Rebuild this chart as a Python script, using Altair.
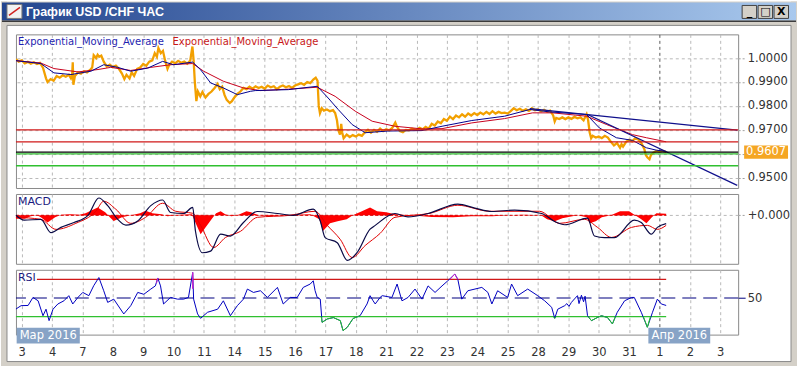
import altair as alt
import pandas as pd

# ---------------- data ----------------
days = ["3", "4", "7", "8", "9", "10", "11", "14", "15", "16", "17", "18",
        "21", "22", "23", "24", "25", "28", "29", "30", "31", "1", "2", "3"]
months = ["Мар 2016", "Апр 2016"]
title_text = "График USD /CHF ЧАС"
ema_label = "Exponential_Moving_Average"

price = [(-0.19, 0.9995), (-0.10, 0.9985), (0.0, 0.9990), (0.1, 0.9978), (0.2, 0.9984), (0.3, 0.9976),
         (0.4, 0.9982), (0.5, 0.9975), (0.6, 0.9980), (0.7, 0.9960), (0.8, 0.9915), (0.85, 0.9900),
         (0.95, 0.9912), (1.05, 0.9905), (1.15, 0.9925), (1.25, 0.9918), (1.35, 0.9928), (1.45, 0.9922),
         (1.55, 0.9930), (1.62, 0.9915), (1.66, 0.9930), (1.68, 0.9982), (1.70, 0.9888), (1.75, 0.9925),
         (1.85, 0.9940), (1.95, 0.9935), (2.05, 0.9945), (2.15, 0.9940), (2.25, 0.9950), (2.32, 0.9960),
         (2.37, 1.0012), (2.45, 1.0000), (2.5, 1.0014), (2.55, 1.0005), (2.62, 1.0010), (2.7, 0.9985),
         (2.8, 0.9965), (2.9, 0.9972), (3.0, 0.9962), (3.1, 0.9968), (3.2, 0.9955), (3.3, 0.9935),
         (3.38, 0.9912), (3.45, 0.9930), (3.55, 0.9915), (3.62, 0.9940), (3.7, 0.9925), (3.8, 0.9955),
         (3.9, 0.9960), (4.0, 0.9975), (4.1, 0.9968), (4.2, 0.9985), (4.3, 0.9990), (4.38, 1.0020),
         (4.45, 1.0005), (4.5, 1.0042), (4.58, 1.0020), (4.65, 1.0030), (4.72, 0.9990), (4.8, 0.9955),
         (4.85, 0.9970), (4.95, 0.9985), (5.05, 0.9978), (5.15, 0.9988), (5.25, 0.9980), (5.35, 0.9985),
         (5.45, 0.9976), (5.55, 0.9990), (5.62, 1.0048), (5.66, 0.9990), (5.7, 0.9900), (5.75, 0.9820),
         (5.8, 0.9860), (5.88, 0.9840), (5.95, 0.9858), (6.05, 0.9835), (6.15, 0.9850), (6.25, 0.9860),
         (6.35, 0.9875), (6.45, 0.9892), (6.52, 0.9870), (6.6, 0.9880), (6.68, 0.9845), (6.75, 0.9825),
         (6.85, 0.9812), (6.92, 0.9820), (7.0, 0.9835), (7.1, 0.9850), (7.2, 0.9860), (7.3, 0.9875),
         (7.4, 0.9870), (7.5, 0.9880), (7.6, 0.9872), (7.7, 0.9882), (7.8, 0.9875), (7.9, 0.9880),
         (8.0, 0.9872), (8.1, 0.9885), (8.2, 0.9878), (8.3, 0.9882), (8.4, 0.9870), (8.5, 0.9880),
         (8.6, 0.9885), (8.7, 0.9878), (8.8, 0.9883), (8.9, 0.9875), (9.0, 0.9885), (9.1, 0.9890),
         (9.2, 0.9895), (9.3, 0.9888), (9.4, 0.9900), (9.5, 0.9895), (9.6, 0.9910), (9.68, 0.9918),
         (9.74, 0.9905), (9.78, 0.9800), (9.82, 0.9770), (9.88, 0.9790), (9.95, 0.9780), (10.05, 0.9785),
         (10.15, 0.9778), (10.25, 0.9782), (10.32, 0.9770), (10.38, 0.9740), (10.42, 0.9700), (10.48, 0.9680),
         (10.52, 0.9725), (10.55, 0.9690), (10.6, 0.9665), (10.7, 0.9680), (10.8, 0.9670), (10.9, 0.9678),
         (11.0, 0.9672), (11.1, 0.9680), (11.2, 0.9675), (11.3, 0.9690), (11.4, 0.9700), (11.5, 0.9688),
         (11.6, 0.9700), (11.7, 0.9692), (11.8, 0.9705), (11.9, 0.9695), (12.0, 0.9702), (12.1, 0.9698),
         (12.2, 0.9708), (12.3, 0.9730), (12.36, 0.9712), (12.45, 0.9695), (12.55, 0.9690), (12.65, 0.9700),
         (12.75, 0.9698), (12.85, 0.9705), (13.0, 0.9700), (13.1, 0.9708), (13.2, 0.9702), (13.3, 0.9712),
         (13.4, 0.9705), (13.5, 0.9725), (13.6, 0.9718), (13.7, 0.9735), (13.8, 0.9728), (13.9, 0.9745),
         (14.0, 0.9738), (14.1, 0.9755), (14.2, 0.9745), (14.3, 0.9760), (14.4, 0.9752), (14.5, 0.9765),
         (14.6, 0.9755), (14.7, 0.9768), (14.8, 0.9760), (14.9, 0.9770), (15.0, 0.9762), (15.1, 0.9772),
         (15.2, 0.9765), (15.3, 0.9775), (15.4, 0.9766), (15.5, 0.9778), (15.6, 0.9768), (15.7, 0.9775),
         (15.8, 0.9770), (15.9, 0.9772), (16.0, 0.9768), (16.1, 0.9778), (16.2, 0.9790), (16.3, 0.9782),
         (16.4, 0.9788), (16.5, 0.9780), (16.6, 0.9786), (16.7, 0.9779), (16.8, 0.9790), (16.9, 0.9782),
         (17.0, 0.9785), (17.1, 0.9778), (17.2, 0.9784), (17.3, 0.9776), (17.4, 0.9780), (17.5, 0.9760),
         (17.55, 0.9735), (17.6, 0.9750), (17.7, 0.9745), (17.8, 0.9752), (17.9, 0.9745), (18.0, 0.9752),
         (18.1, 0.9746), (18.2, 0.9754), (18.3, 0.9748), (18.4, 0.9752), (18.5, 0.9740), (18.6, 0.9765),
         (18.65, 0.9740), (18.7, 0.9690), (18.75, 0.9665), (18.8, 0.9675), (18.9, 0.9668), (19.0, 0.9672),
         (19.1, 0.9665), (19.2, 0.9675), (19.3, 0.9668), (19.4, 0.9650), (19.5, 0.9635), (19.6, 0.9645),
         (19.7, 0.9625), (19.75, 0.9640), (19.8, 0.9630), (19.9, 0.9650), (20.0, 0.9658), (20.1, 0.9652),
         (20.2, 0.9665), (20.3, 0.9660), (20.4, 0.9645), (20.5, 0.9620), (20.55, 0.9595), (20.6, 0.9585),
         (20.67, 0.9577), (20.72, 0.9595), (20.8, 0.9605), (20.9, 0.9612), (21.0, 0.9608), (21.1, 0.9613),
         (21.22, 0.9607)]

ema_fast = [(-0.19, 0.9989), (0.63, 0.9977), (1.06, 0.9938), (1.62, 0.9931), (2.28, 0.9945), (2.70, 0.9972),
            (3.16, 0.9961), (3.59, 0.9945), (4.15, 0.9958), (4.64, 0.9986), (5.00, 0.9972), (5.63, 0.9983),
            (5.89, 0.9951), (6.22, 0.9896), (6.64, 0.9875), (7.10, 0.9847), (7.53, 0.9861), (7.69, 0.9864),
            (8.78, 0.9868), (9.73, 0.9882), (10.09, 0.9833), (10.42, 0.9785), (10.88, 0.9722), (11.31, 0.9688),
            (12.06, 0.9695), (13.18, 0.9697), (13.84, 0.9715), (14.82, 0.9739), (15.90, 0.9757), (16.73, 0.9785),
            (17.38, 0.9775), (18.60, 0.9764), (19.02, 0.9708), (19.58, 0.9667), (20.11, 0.9656), (20.57, 0.9625),
            (20.90, 0.9615), (21.22, 0.9610)]

ema_slow = [(-0.19, 0.9989), (0.63, 0.9979), (1.06, 0.9956), (1.85, 0.9942), (2.51, 0.9952), (2.93, 0.9961),
            (3.59, 0.9948), (4.25, 0.9961), (4.90, 0.9972), (5.63, 0.9977), (5.99, 0.9945), (6.64, 0.9903),
            (7.30, 0.9875), (7.86, 0.9864), (8.78, 0.9870), (9.73, 0.9878), (10.32, 0.9840), (10.98, 0.9778),
            (11.54, 0.9736), (12.29, 0.9715), (13.18, 0.9704), (13.84, 0.9705), (14.82, 0.9729), (15.90, 0.9747),
            (16.82, 0.9771), (17.48, 0.9771), (18.60, 0.9757), (19.26, 0.9722), (20.11, 0.9680), (20.57, 0.9667),
            (21.22, 0.9650)]

trend_a = [(16.73, 0.9789), (23.56, 0.9699)]
trend_b = [(18.63, 0.9764), (23.56, 0.9468)]
red_levels = [0.9700, 0.9650]
green_levels = [0.9600, 0.9550]
last_price = 0.9607
price_ticks = [0.95, 0.96, 0.97, 0.98, 0.99, 1.00]

macd = [(-0.19, 0.0), (0.08, -0.00024), (0.63, -0.0002), (0.96, -0.00086), (1.29, -0.0006), (1.72, -0.00036),
        (2.18, 0.0), (2.54, 0.00086), (2.83, 0.00048), (3.16, -0.0002), (3.43, -0.00049), (3.82, -0.00028),
        (4.25, 0.00048), (4.64, 0.00076), (4.90, 0.00014), (5.33, 0.00009), (5.63, 0.00039), (5.72, -0.00078),
        (5.95, -0.00186), (6.22, -0.00178), (6.55, -0.00094), (6.87, -0.00103), (7.30, -0.00036), (7.76, 0.00019),
        (8.42, 0.00009), (8.94, 0.0), (9.60, 0.00031), (9.83, -0.00028), (9.99, -0.00111), (10.39, -0.00136),
        (10.72, -0.00224), (11.04, -0.00186), (11.47, -0.00069), (11.64, -0.0005), (12.29, 0.00009),
        (12.72, -0.00008), (13.38, 0.00009), (14.36, 0.00056), (14.92, 0.00036), (15.48, 0.00019),
        (16.23, 0.00026), (17.12, 0.00009), (17.55, -0.00031), (17.88, -0.00047), (18.63, -0.00014),
        (18.86, -0.00103), (19.19, -0.00111), (19.52, -0.00111), (20.17, -0.00024), (20.40, -0.00036),
        (20.73, -0.00094), (20.93, -0.0006), (21.22, -0.00041)]

signal = [(-0.19, -0.0001), (0.63, -0.0002), (1.13, -0.0007), (1.78, -0.0004), (2.44, 0.0002), (2.70, 0.0007),
          (3.10, 0.0003), (3.59, -0.0004), (4.08, -0.0001), (4.64, 0.0006), (5.07, 0.0002), (5.63, 0.0001),
          (5.89, -0.0005), (6.32, -0.0016), (6.71, -0.0011), (7.20, -0.0008), (7.76, -0.0001), (8.84, 0.0),
          (9.66, 0.0002), (10.06, -0.0005), (10.49, -0.0012), (10.88, -0.0021), (11.31, -0.0015), (11.80, -0.0009),
          (12.29, -0.0001), (13.44, 0.0001), (14.36, 0.0005), (15.41, 0.0002), (17.05, 0.0002), (17.71, -0.0004),
          (18.53, -0.0002), (18.96, -0.0006), (19.42, -0.0011), (20.08, -0.0006), (20.60, -0.0005),
          (20.93, -0.0007), (21.22, -0.0005)]

hist = [(-0.19, -0.00017), (0.10, -0.00017), (0.3, -0.00005), (0.5, 0.0), (0.63, -0.0001), (0.85, -0.00036),
        (1.1, -0.0001), (1.3, 0.00003), (1.6, 0.00005), (1.9, 0.00003), (2.1, 0.0001), (2.5, 0.00039),
        (2.75, 0.00015), (2.9, -0.0001), (3.03, -0.00028), (3.3, -0.0001), (3.6, 0.0), (3.9, 0.0001),
        (4.08, 0.00023), (4.3, 0.0001), (4.6, 0.00005), (4.8, -0.00005), (5.2, 0.00003), (5.6, 0.00005),
        (5.7, -0.0003), (5.89, -0.00094), (6.05, -0.0006), (6.25, -0.0002), (6.4, 0.0001), (6.55, 0.0002),
        (6.7, 0.00005), (6.9, -0.00005), (7.1, 0.0), (7.4, 0.0002), (7.55, 0.00015), (7.8, 0.0), (8.2, -0.00005),
        (8.6, 0.0), (9.0, 0.00003), (9.5, 0.00005), (9.8, -0.0002), (9.92, -0.00078), (10.15, -0.0004),
        (10.4, -0.0003), (10.7, -0.0002), (10.9, 0.0), (11.2, 0.0002), (11.47, 0.00039), (11.7, 0.0002),
        (12.0, 0.00015), (12.3, 0.00005), (12.8, 0.0), (13.5, -0.00008), (14.2, -0.0001), (14.8, -0.00005),
        (15.5, -0.00005), (16.0, 0.0), (16.5, 0.00003), (17.1, 0.0), (17.3, -0.0002), (17.55, -0.0003),
        (17.8, -0.00015), (18.3, 0.0), (18.6, -0.0001), (18.7, -0.0004), (18.9, -0.0003), (19.1, -0.0001),
        (19.4, 0.0), (19.7, 0.0002), (20.0, 0.0002), (20.2, 0.0), (20.4, -0.0002), (20.57, -0.0004),
        (20.75, -0.0001), (20.9, 0.0001), (21.22, 0.00008)]

rsi = [(-0.19, 38.2), (-0.02, 41.8), (0.21, 42), (0.37, 50.6), (0.54, 47), (0.70, 31), (0.80, 38), (0.90, 25.7),
       (1.03, 38), (1.19, 43.6), (1.39, 47), (1.55, 52.5), (1.68, 43.6), (1.85, 50.6), (2.01, 56), (2.21, 52.5),
       (2.37, 63.2), (2.54, 72), (2.70, 57.8), (2.83, 45.3), (3.03, 48.8), (3.36, 32.9), (3.59, 41.8), (3.82, 56),
       (4.02, 54), (4.25, 59.6), (4.40, 63), (4.48, 71.5), (4.57, 63), (4.67, 43.6), (4.90, 50.6), (5.13, 48.8),
       (5.33, 48.8), (5.49, 50.6), (5.63, 77.4), (5.66, 48.8), (5.79, 32.9), (5.89, 28.2), (6.12, 34.7),
       (6.45, 38), (6.64, 47), (6.87, 31), (7.10, 41.8), (7.30, 48.8), (7.43, 59.6), (7.63, 56), (7.86, 57.8),
       (8.09, 50.6), (8.42, 61.4), (8.61, 43.6), (8.84, 50.6), (9.07, 50.6), (9.27, 61.4), (9.50, 65),
       (9.60, 68.5), (9.66, 57.8), (9.73, 50.6), (9.83, 48.8), (9.89, 23.9), (10.06, 27.5), (10.26, 29),
       (10.49, 25.7), (10.58, 15), (10.72, 18.6), (10.91, 28), (11.14, 31), (11.37, 43.6), (11.47, 52.5),
       (11.57, 47), (11.64, 43.6), (11.80, 50.6), (11.87, 52.5), (12.19, 50.6), (12.36, 65), (12.52, 47),
       (12.72, 50.6), (12.95, 59.6), (13.18, 48.8), (13.38, 63), (13.61, 56), (13.84, 63), (14.03, 68.5),
       (14.26, 75.7), (14.36, 70), (14.49, 48.8), (14.69, 57.8), (15.15, 61.4), (15.35, 56), (15.48, 43.6),
       (15.67, 57.8), (16.00, 50.6), (16.13, 65), (16.33, 52.5), (16.66, 59.6), (16.99, 52.5), (17.22, 47),
       (17.45, 40), (17.55, 28.2), (17.65, 38), (17.88, 41.8), (17.95, 44), (18.02, 41), (18.10, 45.3),
       (18.2, 49), (18.3, 52.5), (18.35, 44), (18.43, 53), (18.5, 46), (18.55, 52), (18.63, 31), (18.76, 25.7),
       (18.95, 29), (19.09, 31), (19.29, 29), (19.45, 22.2), (19.61, 34.7), (19.85, 47), (20.08, 50.6),
       (20.17, 50.6), (20.40, 34.7), (20.60, 18.6), (20.77, 34.7), (20.93, 48.8), (21.06, 43.6), (21.22, 42)]

rsi_oversold = [(1, 9.86, 30), (1, 9.89, 23.9), (1, 10.06, 27.5), (1, 10.26, 29), (1, 10.49, 25.7),
                (1, 10.58, 15), (1, 10.72, 18.6), (1, 10.91, 28), (1, 11.14, 31),
                (2, 17.50, 30), (2, 17.55, 28.2), (2, 17.60, 30),
                (3, 18.65, 30), (3, 18.76, 25.7), (3, 18.95, 29), (3, 19.09, 31), (3, 19.29, 29),
                (3, 19.45, 22.2), (3, 19.55, 30),
                (4, 20.47, 30), (4, 20.60, 18.6), (4, 20.70, 30)]
rsi_overbought = [(1, 4.44, 66), (1, 4.48, 71.5),
                  (2, 5.625, 60), (2, 5.63, 77.4), (2, 5.64, 60),
                  (3, 14.10, 70), (3, 14.26, 75.7), (3, 14.36, 70)]
rsi_levels = {"high": 70, "mid": 50, "low": 30}
data_start = -0.19
label_end = 0.5
data_end = 21.22

# ---------------- helpers ----------------
X_DOM = [-0.19, 23.59]
W = 724
FONT = "DejaVu Sans"
GRIDC = {"condition": {"test": "datum.value === 21", "value": "#5a5a5a"}, "value": "#b9b9b9"}

def df(pairs, cols=("t", "v")):
    return pd.DataFrame(pairs, columns=list(cols))

def one():
    return pd.DataFrame({"k": [0]})

def xenc(field="t", labels=False):
    if labels:
        arr = "[" + ",".join("'%s'" % d for d in days) + "]"
        ax = alt.Axis(values=list(range(24)), grid=True, gridDash=[3, 3], gridColor=GRIDC,
                      labels=True, labelExpr=arr + "[datum.value]", labelFont=FONT, labelFontSize=11.5,
                      labelColor="#333333", labelPadding=12, ticks=False, domain=False, title=None)
    else:
        ax = alt.Axis(values=list(range(24)), grid=True, gridDash=[3, 3], gridColor=GRIDC,
                      labels=False, ticks=False, domain=False, title=None)
    return alt.X(f"{field}:Q", scale=alt.Scale(domain=X_DOM, nice=False, zero=False), axis=ax)

MAIN_DOM = [0.94571, 1.00988]
MACD_DOM = [-0.00241, 0.00106]
RSI_DOM = [10.7, 80.3]

main_axis = alt.Axis(orient="right", values=price_ticks, grid=True, gridDash=[3, 3], gridColor="#b9b9b9",
                     labelExpr="datum.value > 0.955 && datum.value < 0.965 ? '' : format(datum.value, '.4f')",
                     labelFont=FONT, labelFontSize=11.5, labelColor="#333333", labelPadding=2,
                     ticks=True, tickSize=7, tickDash=[2, 2], tickColor="#a0a0a0", domain=False, title=None)
macd_axis = alt.Axis(orient="right", values=[0], grid=True, gridDash=[3, 3], gridColor="#b9b9b9",
                     labelExpr="'+0.000'", labelFont=FONT, labelFontSize=11.5, labelColor="#333333",
                     labelPadding=2, ticks=True, tickSize=7, tickDash=[2, 2], tickColor="#a0a0a0",
                     domain=False, title=None)
rsi_axis = alt.Axis(orient="right", values=[50], grid=False, labelFont=FONT, labelFontSize=11.5,
                    labelColor="#333333", labelPadding=2, ticks=True, tickSize=7, tickDash=[8, 4],
                    tickColor="#000080", domain=False, title=None)

def yenc(dom, axis, field="v"):
    return alt.Y(f"{field}:Q", scale=alt.Scale(domain=dom, nice=False, zero=False), axis=axis)

# ---------------- main panel ----------------
FRAME = "#d4d0c8"
def box(x1, x2, y1, y2, **kw):
    return alt.Chart(one()).mark_rect(**kw).encode(
        x=alt.value(x1), x2=alt.value(x2), y=alt.value(y1), y2=alt.value(y2))

grad = alt.Gradient(gradient="linear",
                    stops=[alt.GradientStop(color="#23458f", offset=0),
                           alt.GradientStop(color="#a9c9ee", offset=1)],
                    x1=0, x2=1, y1=0, y2=0)

chrome = [
    box(-15, 783, -33, -9, fill=FRAME),
    box(-15, -9, -33, 333, fill=FRAME),
    box(777, 783, -33, 333, fill=FRAME),
    box(-15, 783, 328, 333, fill=FRAME),
    box(-9, 777, -9, 328, fillOpacity=0, stroke="#8a8a8a", strokeWidth=1),
    box(-14, 782, -32, -14, fill=grad),
    box(-14, 782, -14, -12.5, fill="#3c3c3c"),
    box(-9, 6, -30, -16, fill="#f2f2f2", stroke="#7a7a7a", strokeWidth=1),
    alt.Chart(one()).mark_rule(color="#d02020", strokeWidth=1.5).encode(
        x=alt.value(-7), x2=alt.value(4), y=alt.value(-19), y2=alt.value(-27)),
    alt.Chart(one()).mark_text(align="left", baseline="middle", font="Liberation Sans", fontSize=12.5,
                               fontWeight="bold", color="white").encode(
        x=alt.value(10), y=alt.value(-22.5), text=alt.value(title_text)),
]
for bx, sym in [(728, "_"), (744, "□"), (760, "X")]:
    chrome.append(box(bx, bx + 14.5, -29, -16, fill=FRAME, stroke="#404040", strokeWidth=1))
    chrome.append(alt.Chart(one()).mark_text(align="center", baseline="middle", font=FONT, fontSize=11,
                                             fontWeight="bold", color="black").encode(
        x=alt.value(bx + 7.3), y=alt.value(-22.5), text=alt.value(sym)))

px = df(price)
main_layers = chrome + [
    alt.Chart(px).mark_line(color="#f2a000", strokeWidth=2.3, clip=True).encode(
        x=xenc(), y=yenc(MAIN_DOM, main_axis)),
    alt.Chart(df(ema_slow)).mark_line(color="#c8001e", strokeWidth=1, clip=True).encode(
        x=xenc(), y=yenc(MAIN_DOM, main_axis)),
    alt.Chart(df(ema_fast)).mark_line(color="#000090", strokeWidth=1, clip=True).encode(
        x=xenc(), y=yenc(MAIN_DOM, main_axis)),
    alt.Chart(df(trend_a)).mark_line(color="#10108c", strokeWidth=1.2, clip=True).encode(
        x=xenc(), y=yenc(MAIN_DOM, main_axis)),
    alt.Chart(df(trend_b)).mark_line(color="#10108c", strokeWidth=1.2, clip=True).encode(
        x=xenc(), y=yenc(MAIN_DOM, main_axis)),
    alt.Chart(pd.DataFrame({"v": red_levels})).mark_rule(color="#d01818", strokeWidth=1.3).encode(
        y=yenc(MAIN_DOM, main_axis)),
    alt.Chart(pd.DataFrame({"v": green_levels})).mark_rule(color="#30c030", strokeWidth=1.3).encode(
        y=yenc(MAIN_DOM, main_axis)),
    alt.Chart(pd.DataFrame({"v": [last_price]})).mark_rule(color="#000000", strokeWidth=1.3).encode(
        y=yenc(MAIN_DOM, main_axis)),
    alt.Chart(pd.DataFrame({"v": [last_price]})).mark_point(
        shape="M-1,-0.3L1,-0.3L1,0.3L-1,0.3Z", size=1936, filled=True, opacity=1,
        color="#f5a623").encode(x=alt.value(752), y=yenc(MAIN_DOM, main_axis)),
    alt.Chart(pd.DataFrame({"v": [last_price]})).mark_text(
        font=FONT, fontSize=11.5, color="white", align="center", baseline="middle").encode(
        x=alt.value(752), y=yenc(MAIN_DOM, main_axis), text=alt.Text("v:Q", format=".4f")),
    alt.Chart(one()).mark_text(align="left", baseline="middle", font=FONT, fontSize=10,
                               color="#1f1fb0").encode(
        x=alt.value(2), y=alt.value(7.5), text=alt.value(ema_label)),
    alt.Chart(one()).mark_text(align="left", baseline="middle", font=FONT, fontSize=10,
                               color="#c81818").encode(
        x=alt.value(157), y=alt.value(7.5), text=alt.value(ema_label)),
]
main = alt.layer(*main_layers).properties(width=W, height=154)

# ---------------- MACD panel ----------------
macd_layers = [
    alt.Chart(df(hist)).mark_area(color="#ff0000", opacity=1, interpolate="linear").encode(
        x=xenc(), y=yenc(MACD_DOM, macd_axis), y2=alt.datum(0)),
    alt.Chart(pd.DataFrame({"t": [data_start, data_end], "v": [0, 0]})).mark_line(
        color="#e00000", strokeDash=[3, 2], strokeWidth=1).encode(x=xenc(), y=yenc(MACD_DOM, macd_axis)),
    alt.Chart(df(signal)).mark_line(color="#e00000", strokeWidth=1, interpolate="monotone").encode(
        x=xenc(), y=yenc(MACD_DOM, macd_axis)),
    alt.Chart(df(macd)).mark_line(color="#0a0a46", strokeWidth=1.2, interpolate="monotone").encode(
        x=xenc(), y=yenc(MACD_DOM, macd_axis)),
    alt.Chart(one()).mark_text(align="left", baseline="middle", font=FONT, fontSize=11,
                               color="#1a1a80").encode(
        x=alt.value(2), y=alt.value(8), text=alt.value("MACD")),
]
macd_panel = alt.layer(*macd_layers).properties(width=W, height=70)

# ---------------- RSI panel ----------------
rsi_layers = [
    alt.Chart(pd.DataFrame({"v": [rsi_levels["mid"]]})).mark_rule(
        color="#000080", strokeDash=[14, 7], strokeWidth=1.2).encode(y=yenc(RSI_DOM, rsi_axis)),
    alt.Chart(pd.DataFrame({"t": [label_end, data_end], "v": [rsi_levels["high"]] * 2})).mark_line(
        color="#d01818", strokeWidth=1.2).encode(x=xenc(labels=True), y=yenc(RSI_DOM, rsi_axis)),
    alt.Chart(pd.DataFrame({"t": [data_start, data_end], "v": [rsi_levels["low"]] * 2})).mark_line(
        color="#30c030", strokeWidth=1.2).encode(x=xenc(labels=True), y=yenc(RSI_DOM, rsi_axis)),
    alt.Chart(df(rsi)).mark_line(color="#0000c0", strokeWidth=1).encode(
        x=xenc(labels=True), y=yenc(RSI_DOM, rsi_axis)),
    alt.Chart(df(rsi_oversold, ("s", "t", "v"))).mark_line(color="#22cc22", strokeWidth=1).encode(
        x=xenc(labels=True), y=yenc(RSI_DOM, rsi_axis), detail="s:N"),
    alt.Chart(df(rsi_overbought, ("s", "t", "v"))).mark_line(color="#cc22cc", strokeWidth=1).encode(
        x=xenc(labels=True), y=yenc(RSI_DOM, rsi_axis), detail="s:N"),
    alt.Chart(one()).mark_text(align="left", baseline="middle", font=FONT, fontSize=11,
                               color="#1a1a80").encode(
        x=alt.value(2), y=alt.value(8), text=alt.value("RSI")),
]
for bx1, bx2, label in [(0.7, 64, months[0]), (634, 696, months[1])]:
    rsi_layers.append(box(bx1, bx2, 58, 74, fill="#87a3c6"))
    rsi_layers.append(alt.Chart(one()).mark_text(align="center", baseline="middle", font=FONT,
                                                 fontSize=11.5, color="white").encode(
        x=alt.value((bx1 + bx2) / 2), y=alt.value(66.5), text=alt.value(label)))
rsi_panel = alt.layer(*rsi_layers).properties(width=W, height=65)

chart = alt.vconcat(main, macd_panel, rsi_panel, spacing=6, bounds="flush").properties(
    padding=0, background="white").configure_view(stroke="#8a8a8a", strokeWidth=1)

chart.save("out.html", embed_options={"renderer": "svg", "actions": False})
